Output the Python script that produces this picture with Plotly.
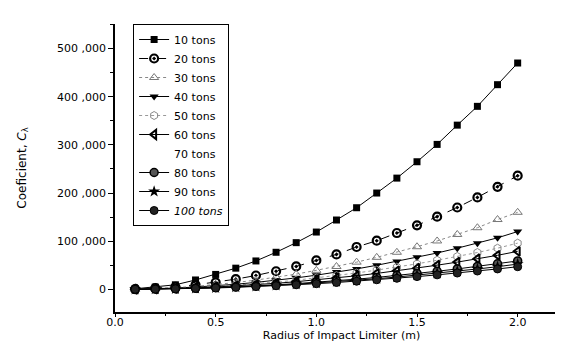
import plotly.graph_objects as go

radius = [0.1, 0.2, 0.3, 0.4, 0.5, 0.6, 0.7, 0.8, 0.9, 1.0,
          1.1, 1.2, 1.3, 1.4, 1.5, 1.6, 1.7, 1.8, 1.9, 2.0]

c_10 = [1200, 4700, 9500, 19500, 31000, 44000, 59000, 77000, 97000, 119000,
        144000, 169500, 200000, 231000, 265000, 301000, 341000, 380000, 425000, 470000]
c_20 = [600, 2400, 5300, 9400, 14700, 21200, 28800, 37600, 47600, 60000,
        72600, 88000, 101000, 117000, 133000, 151000, 170000, 191000, 213000, 236000]
c_30 = [400, 1600, 3500, 6300, 9800, 14100, 19200, 25100, 31700, 39500,
        47500, 56500, 66500, 77000, 88500, 100500, 114000, 128000, 145000, 160000]
c_40 = [300, 1200, 2700, 4800, 7400, 10600, 14500, 18900, 23800, 29500,
        35800, 42500, 50000, 58000, 66500, 75500, 85500, 96000, 107000, 120000]
c_50 = [240, 950, 2100, 3800, 5900, 8500, 11500, 15000, 19000, 23600,
        28500, 34000, 40000, 46300, 53000, 60500, 68300, 76500, 85500, 96000]
c_60 = [200, 800, 1800, 3100, 4900, 7100, 9600, 12600, 15900, 19600,
        23700, 28200, 33100, 38400, 44100, 50200, 56600, 63500, 70700, 79000]
c_80 = [150, 600, 1300, 2400, 3700, 5300, 7200, 9400, 11900, 14700,
        17800, 21200, 24800, 28800, 33100, 37600, 42400, 47600, 53000, 59000]
c_90 = [130, 520, 1180, 2100, 3300, 4700, 6400, 8400, 10600, 13100,
        15800, 18800, 22100, 25600, 29400, 33400, 37700, 42300, 47100, 52500]
c_100 = [120, 470, 1060, 1900, 2950, 4250, 5750, 7500, 9500, 11750,
         14200, 16900, 19900, 23000, 26500, 30100, 33900, 38100, 42400, 47000]

series_names = ["10 tons", "20 tons", "30 tons", "40 tons", "50 tons",
                "60 tons", "70 tons", "80 tons", "90 tons", "<i>100 tons</i>"]

y_ticks = [0, 100000, 200000, 300000, 400000, 500000]
y_ticktext = ["0", "100 ,000", "200 ,000", "300 ,000", "400 ,000", "500 ,000"]
x_ticks = [0.0, 0.5, 1.0, 1.5, 2.0]
x_ticktext = ["0.0", "0.5", "1.0", "1.5", "2.0"]

styles = [
    (c_10, dict(symbol="square", color="black", size=7), dict(color="black", width=1, dash="solid")),
    (c_20, dict(symbol="circle-open-dot", color="black", size=8, line=dict(width=2.2)), dict(color="black", width=1, dash="dash")),
    (c_30, dict(symbol="triangle-up-open", color="#777", size=8, line=dict(width=1)), dict(color="#888", width=1, dash="dot")),
    (c_40, dict(symbol="triangle-down", color="black", size=8), dict(color="black", width=1, dash="solid")),
    (c_50, dict(symbol="hexagon-open", color="#888", size=8, line=dict(width=1)), dict(color="#999", width=1, dash="dot")),
    (c_60, dict(symbol="triangle-left-open", color="black", size=8, line=dict(width=2)), dict(color="black", width=1, dash="solid")),
    (None, None, None),
    (c_80, dict(symbol="circle", color="#555", size=8, line=dict(width=1.5, color="black")), dict(color="black", width=1, dash="solid")),
    (c_90, dict(symbol="star", color="black", size=9), dict(color="black", width=1, dash="solid")),
    (c_100, dict(symbol="circle", color="#222", size=8, line=dict(width=1, color="black")), dict(color="black", width=1, dash="solid")),
]

fig = go.Figure()
for name, (vals, mk, ln) in zip(series_names, styles):
    if vals is None:
        fig.add_trace(go.Scatter(x=[None], y=[None], name=name, mode="lines",
                                 line=dict(color="rgba(0,0,0,0)", width=1)))
    else:
        fig.add_trace(go.Scatter(x=radius, y=vals, name=name, mode="lines+markers",
                                 marker=mk, line=ln))

axis_font = dict(family="DejaVu Sans", size=11, color="black")

fig.update_layout(
    width=563, height=347,
    margin=dict(l=107, r=3, t=16, b=43),
    paper_bgcolor="white", plot_bgcolor="white",
    font=dict(family="DejaVu Sans", size=11, color="black"),
    showlegend=True,
    legend=dict(x=0.04, y=1.0, xanchor="left", yanchor="top",
                bgcolor="white", bordercolor="black", borderwidth=1,
                font=dict(family="DejaVu Sans", size=11, color="black"),
                tracegroupgap=0, itemwidth=30),
    xaxis=dict(range=[0, 2.25], tickvals=x_ticks, ticktext=x_ticktext,
               showline=True, linecolor="black", linewidth=1.5, mirror=False,
               ticks="outside", ticklen=3, tickcolor="black",
               ticklabelstandoff=-4,
               minor=dict(ticks="outside", ticklen=2, dtick=0.25, tickcolor="black"),
               showgrid=False, zeroline=False, tickfont=axis_font,
               title=dict(text="Radius of Impact Limiter (m)", font=dict(family="DejaVu Sans", size=11), standoff=0)),
    yaxis=dict(range=[-47000, 551000], tickvals=y_ticks, ticktext=y_ticktext,
               showline=True, linecolor="black", linewidth=1.5, mirror=False,
               ticks="outside", ticklen=5, tickcolor="black",
               minor=dict(ticks="outside", ticklen=3, dtick=50000, tick0=0, tickcolor="black"),
               showgrid=False, zeroline=False, tickfont=axis_font,
               title=dict(text="Coeficient, <i>C</i><sub>λ</sub>", font=dict(family="DejaVu Sans", size=12), standoff=28)),
)

fig.write_html("out.html")
